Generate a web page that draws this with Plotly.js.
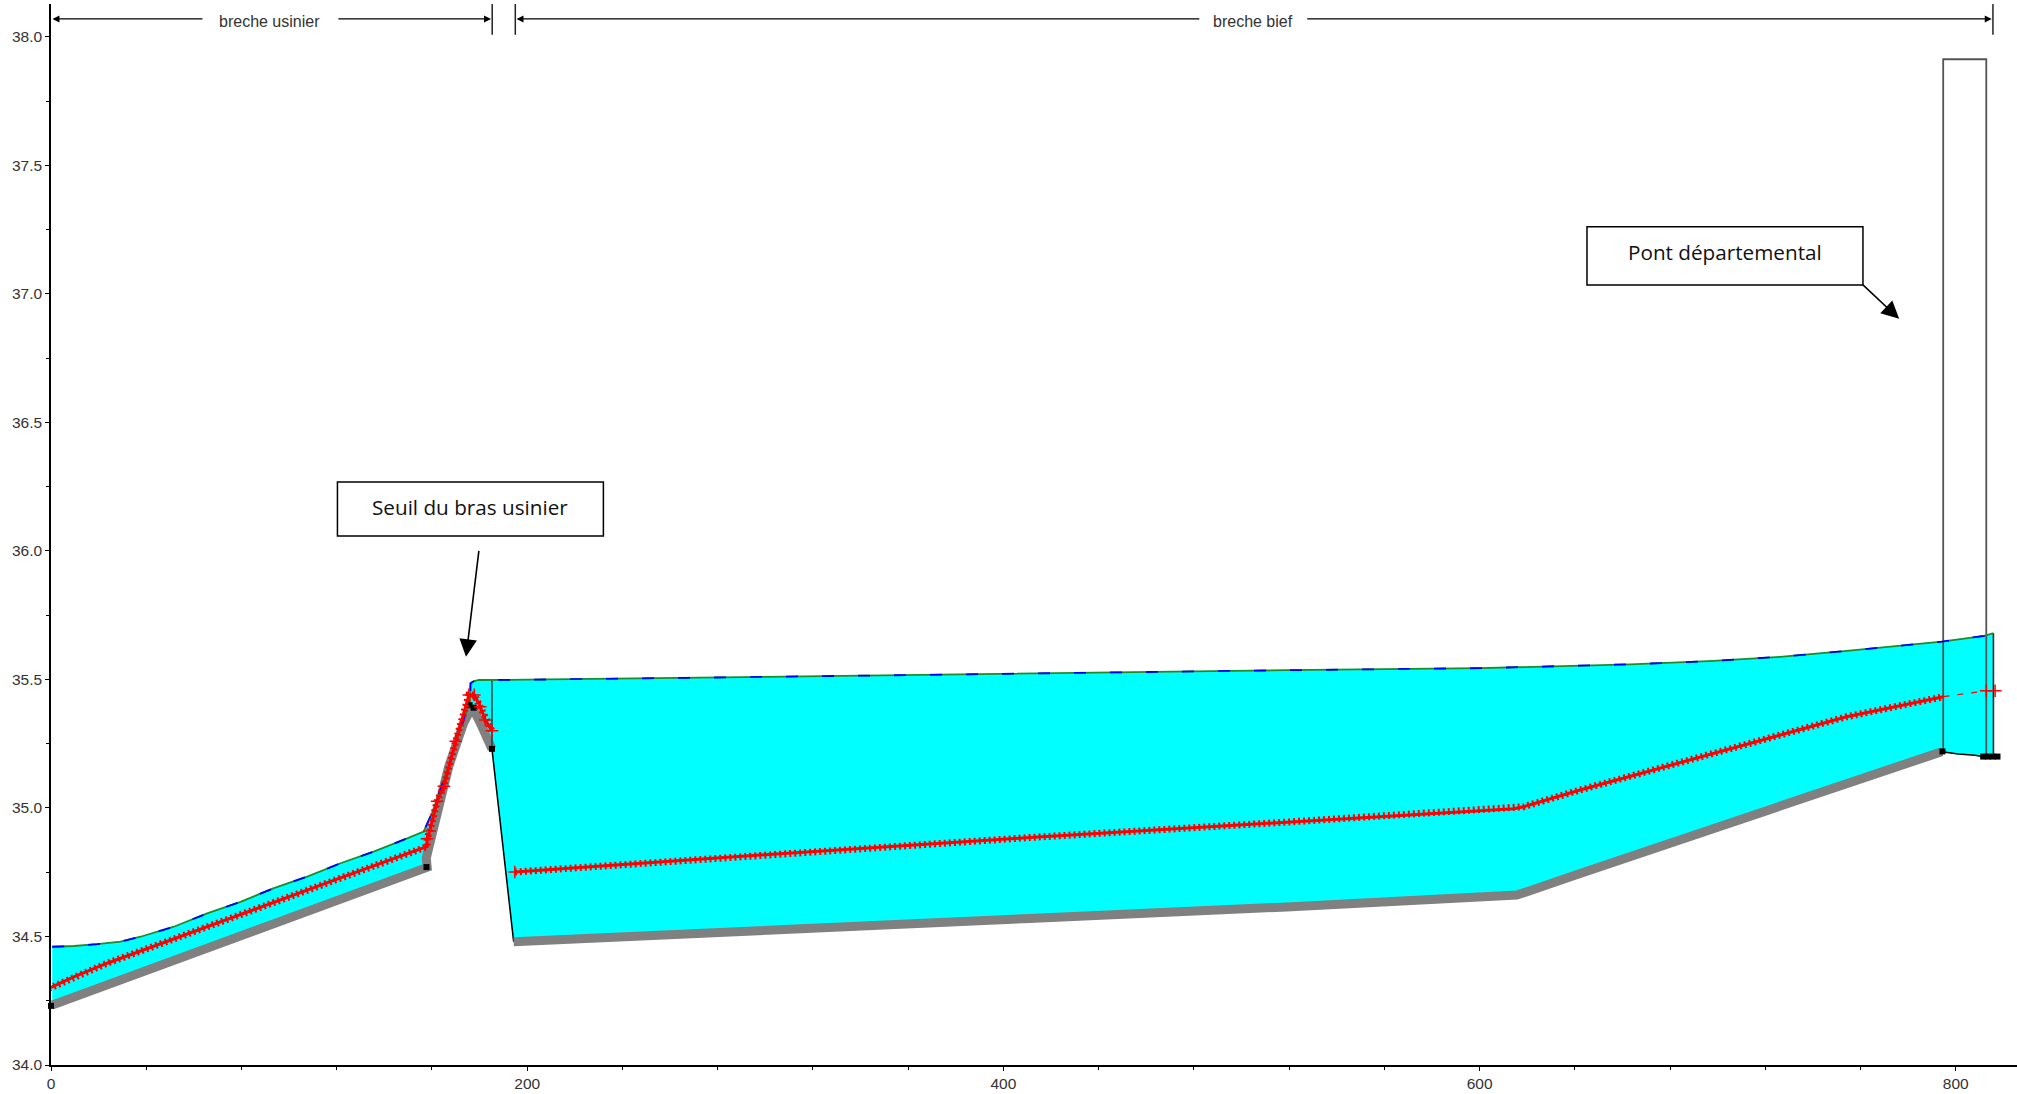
<!DOCTYPE html>
<html>
<head>
<meta charset="utf-8">
<script src="https://cdn.plot.ly/plotly-3.0.1.min.js"></script>
<style>html,body{margin:0;padding:0;background:#fff}#chart{width:2017px;height:1094px}</style>
</head>
<body>
<div id="chart"></div>
<script>
// Water surface
const surfaceX = [0.5,9.6,19.4,29.2,37.6,51.6,65.6,79.6,93.6,107.6,121.6,135.5,149.6,156.5,160,165,170,176,176.2,177.5,179.6,200,300,411,519,600.3,628.2,663.3,698.2,726.2,754.2,794.1,812,815.8];
const surfaceY = [34.46,34.463,34.47,34.48,34.499,34.538,34.59,34.635,34.688,34.733,34.785,34.83,34.882,34.908,34.98,35.11,35.25,35.42,35.485,35.493,35.498,35.499,35.51,35.524,35.536,35.544,35.55,35.559,35.572,35.588,35.611,35.647,35.67,35.68];
// River bed, usinier branch and hump (thick grey)
const bedAX = [0.5,9.6,23.6,37.6,51.6,65.6,79.6,93.6,107.6,121.6,135.5,149.6,158,157.6,161.8,167,173.3,176.9,180.3,183.8,185.2];
const bedAY = [34.233,34.264,34.31,34.36,34.408,34.457,34.505,34.55,34.6,34.647,34.695,34.742,34.769,34.805,34.974,35.16,35.33,35.394,35.33,35.258,35.23];
// River bed, bief (thick grey)
const bedBX = [194.3,300,411,519,600.3,615.6,642.2,670.3,698,726.2,754.2,794.1];
const bedBY = [34.48,34.527,34.57,34.615,34.652,34.661,34.745,34.833,34.92,35.005,35.093,35.219];
// Bed continuation drawn only as a thin line
const floorGapX = [185.2,194.3];
const floorGapY = [35.23,34.48];
const floorEndX = [794.1,801,808,811,815.8];
const floorEndY = [35.219,35.21,35.205,35.2,35.2];
// Energy line
const energyAX = [-0.9,9.6,23.6,37.6,51.6,65.6,79.6,93.6,107.6,121.6,135.5,149.6,158,157.9,159,162.2,165,170,175.5,177.8,180.3,182.4,185.2];
const energyAY = [34.298,34.343,34.396,34.443,34.49,34.538,34.585,34.633,34.68,34.728,34.775,34.822,34.85,34.88,34.91,35.026,35.085,35.26,35.44,35.44,35.394,35.342,35.3];
const energyBX = [194.8,303,411,519,600.3,614.3,618.5,642.2,670.3,698.2,726.2,754.2,794.8];
const energyBY = [34.751,34.82,34.885,34.945,34.99,34.997,35.005,35.07,35.141,35.212,35.284,35.355,35.433];
const energyCX = [794.8,812.8,816.5];
const energyCY = [35.433,35.456,35.456];
// Section nodes (black squares)
const nodeX = [0,157.7,175.8,177.5,185.2,794.4,811.5,813.5,815.5,817.5];
const nodeY = [34.23,34.77,35.4,35.39,35.23,35.22,35.2,35.2,35.2,35.2];
// Structures
const bridgeX = [794.7,794.7,812.8,812.8];
const bridgeY = [35.22,37.913,37.913,35.2];
const weirX = [185.2,185.2];
const weirY = [35.23,35.497];
const abutmentX = [815.8,815.8];
const abutmentY = [35.68,35.2];
// Text
const labelUsinier = "breche usinier";
const labelBief = "breche bief";
const labelSeuil = "Seuil du bras usinier";
const labelPont = "Pont départemental";

const polyX = surfaceX.concat(floorEndX.slice().reverse(), bedBX.slice().reverse(), bedAX.slice().reverse());
const polyY = surfaceY.concat(floorEndY.slice().reverse(), bedBY.slice().reverse(), bedAY.slice().reverse());

const line = (x,y,color,width,dash,extra) => Object.assign({
  x, y, type:'scatter', mode:'lines', cliponaxis:false, hoverinfo:'skip', showlegend:false,
  line:{color, width, dash:dash||'solid'}
}, extra||{});
const hatch = (x,y) => line(x,y,'#ff0000',7,'2px,3px');
const crosses = (x,y) => ({x,y,type:'scatter',mode:'markers',cliponaxis:false,hoverinfo:'skip',showlegend:false,
  marker:{symbol:'cross-thin',size:9,line:{color:'#ff0000',width:1.5}}});

const traces = [
  {x:polyX,y:polyY,type:'scatter',mode:'lines',fill:'toself',fillcolor:'#00ffff',line:{width:0,color:'#00ffff'},hoverinfo:'skip',showlegend:false},
  line(floorGapX,floorGapY,'#000',1.5),
  line(floorEndX,floorEndY,'#000',1.5),
  line(bedAX,bedAY,'#808080',9),
  line(bedBX,bedBY,'#808080',9),
  line(weirX,weirY,'#0d5050',1.6),
  line(abutmentX,abutmentY,'#222',1.6),
  line(bridgeX,bridgeY,'#555',1.8),
  line(surfaceX,surfaceY,'#1f8a2a',1.8),
  line(surfaceX,surfaceY,'#0000ff',1.8,'12px,24px'),
  {x:nodeX,y:nodeY,type:'scatter',mode:'markers',cliponaxis:false,hoverinfo:'skip',showlegend:false,marker:{symbol:'square',size:6,color:'#000'}},
  line(energyAX,energyAY,'#ff0000',3),
  hatch(energyAX,energyAY),
  line(energyBX,energyBY,'#ff0000',3),
  hatch(energyBX,energyBY),
  line(energyCX,energyCY,'#ff0000',1.2,'6px,8px'),
  crosses(energyAX.slice(13),energyAY.slice(13)),
  crosses(energyAX.slice(0,1),energyAY.slice(0,1)),
  crosses(energyBX.slice(0,1),energyBY.slice(0,1)),
  crosses(energyCX.slice(1),energyCY.slice(1))
];

const seg = (x0,y0,x1,y1,color,width) => ({type:'line',xref:'x',yref:'y',x0,y0,x1,y1,line:{color,width}});
const rect = (x0,y0,x1,y1) => ({type:'rect',xref:'x',yref:'y',x0,y0,x1,y1,line:{color:'#000',width:1.5},fillcolor:'#fff'});

const shapes = [
  seg(185.3,38.128,185.3,38.008,'#222',1.5),
  seg(195,38.128,195,38.008,'#222',1.5),
  seg(815.6,38.128,815.6,38.008,'#222',1.5),
  rect(120.3,36.058,232,36.268),
  rect(645.1,37.035,761,37.261)
];

const arrow = (x,y,ax,ay,size,width) => ({x,y,ax,ay,xref:'x',yref:'y',axref:'x',ayref:'y',text:' ',font:{size:1},borderpad:0,borderwidth:0,showarrow:true,
  arrowhead:2,arrowsize:size,arrowwidth:width,arrowcolor:'#000',standoff:0,startstandoff:0});
const dimText = (text,x) => ({x,y:38.058,xref:'x',yref:'y',text,showarrow:false,font:{family:'"Liberation Sans",Arial,sans-serif',size:16,color:'#333'}});
const boxText = (text,x,y) => ({x,y,xref:'x',yref:'y',text,showarrow:false,font:{family:'"Open Sans",sans-serif',size:20.7,color:'#111'}});

const annotations = [
  arrow(0.6,38.07,63.6,38.07,1,1.4),
  arrow(184.8,38.07,120.7,38.07,1,1.4),
  arrow(195.5,38.07,482.3,38.07,1,1.4),
  arrow(815.1,38.07,527.6,38.07,1,1.4),
  dimText(labelUsinier,91.7),
  dimText(labelBief,504.9),
  boxText(labelSeuil,176.1,36.172),
  boxText(labelPont,703,37.162),
  arrow(174.3,35.588,179.7,36.0,2.2,1.6),
  arrow(776.2,36.903,761,37.035,2.2,1.6)
];

const layout = {
  width:2017, height:1094,
  margin:{l:50.5,r:0,t:4,b:29,pad:0},
  paper_bgcolor:'#fff', plot_bgcolor:'#fff',
  showlegend:false,
  font:{family:'"Liberation Sans",Arial,sans-serif',size:15.5,color:'#333'},
  xaxis:{range:[0,825.7],showgrid:false,zeroline:false,showline:true,linecolor:'#000',linewidth:1.6,
    ticks:'outside',ticklen:4,tickwidth:1.4,tickcolor:'#000',tick0:0,dtick:200,
    minor:{dtick:40,ticks:'outside',ticklen:3,tickwidth:1.2,tickcolor:'#000',showgrid:false},
    tickfont:{size:15.5,color:'#333'}},
  yaxis:{range:[34,38.128],showgrid:false,zeroline:false,showline:true,linecolor:'#000',linewidth:1.6,
    ticks:'outside',ticklen:4,tickwidth:1.4,tickcolor:'#000',tick0:34,dtick:0.5,tickformat:'.1f',
    minor:{dtick:0.25,ticks:'outside',ticklen:3,tickwidth:1.2,tickcolor:'#000',showgrid:false},
    tickfont:{size:15.5,color:'#333'}},
  shapes, annotations
};
Plotly.newPlot('chart',traces,layout,{displayModeBar:false,responsive:false});
</script>
</body>
</html>
